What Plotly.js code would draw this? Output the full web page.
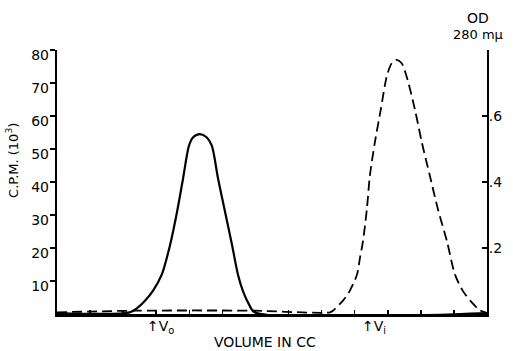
<!DOCTYPE html>
<html><head><meta charset="utf-8">
<script src="https://cdn.plot.ly/plotly-3.0.1.min.js"></script>
<style>body{margin:0;background:#fff}#c{width:513px;height:351px}</style>
</head><body><div id="c"></div>
<script>
// Solid curve: C.P.M. (10^3) vs volume
const cpmVolume = [0, 2.2, 2.45, 2.66, 2.9, 3.17, 3.42, 3.63, 3.81, 3.99, 4.11, 4.32, 4.53, 4.68, 4.87, 5.08, 5.29, 5.47, 5.62, 5.8, 5.98, 13];
const cpmValues = [0.3, 0.5, 2, 4, 7, 12, 21, 31, 41, 51, 53.5, 54.5, 53.5, 51, 41, 31, 21, 12, 7, 3, 0.5, 0.3];
// Dashed curve: OD 280 mμ vs volume
const odVolume = [0, 2.36, 5.92, 8.25, 8.34, 8.64, 8.85, 9.07, 9.16, 9.25, 9.37, 9.46, 9.61, 9.79, 9.97, 10.12, 10.27, 10.42, 10.57, 10.82, 11.03, 11.27, 11.51, 11.79, 12.03, 12.27, 12.54, 12.78, 13];
const odValues = [0.005, 0.01, 0.01, 0.005, 0.01, 0.04, 0.07, 0.12, 0.17, 0.22, 0.32, 0.42, 0.52, 0.62, 0.72, 0.76, 0.77, 0.76, 0.72, 0.62, 0.52, 0.42, 0.32, 0.22, 0.12, 0.07, 0.035, 0.012, 0.003];
const leftTicks = [10, 20, 30, 40, 50, 60, 70, 80];
const leftTickText = ["10", "20", "30", "40", "50", "60", "70", "80"];
const rightTicks = [0.2, 0.4, 0.6];
const rightTickText = [".2", ".4", ".6"];
const xTicks = [1, 2, 3, 4, 5, 6, 7, 8, 9, 10, 11, 12];
const markers = [{x: 2.65, label: "↑V<sub>o</sub>"}, {x: 9.15, label: "↑V<sub>i</sub>"}];

const font = {family: "DejaVu Sans, Arial, sans-serif", color: "#000"};
const f = s => Object.assign({size: s}, font);
const traces = [
  {x: cpmVolume, y: cpmValues, type: "scatter", mode: "lines", line: {color: "#000", width: 2.2, shape: "spline", smoothing: 0.8}, yaxis: "y", hoverinfo: "none"},
  {x: odVolume, y: odValues, type: "scatter", mode: "lines", line: {color: "#000", width: 1.8, dash: "10px,5px", shape: "spline", smoothing: 0.8}, yaxis: "y2", hoverinfo: "none"}
];
const layout = {
  width: 513, height: 351,
  margin: {l: 57, r: 26, t: 50, b: 37},
  paper_bgcolor: "#fff", plot_bgcolor: "#fff",
  showlegend: false,
  font: f(14),
  xaxis: {range: [0, 13], showgrid: false, zeroline: false, showline: true, linecolor: "#000", linewidth: 2.5,
          tickmode: "array", tickvals: xTicks, ticks: "inside", ticklen: 4, tickwidth: 1.5, tickcolor: "#000", showticklabels: false},
  yaxis: {range: [0, 80], showgrid: false, zeroline: false, showline: true, linecolor: "#000", linewidth: 2.2,
          tickmode: "array", tickvals: leftTicks, ticktext: leftTickText, ticks: "outside", ticklen: 5, tickwidth: 1.5, tickcolor: "#000",
          tickfont: f(14), ticklabelstandoff: -2, ticklabelshift: 5},
  yaxis2: {range: [0, 0.8], overlaying: "y", side: "right", showgrid: false, zeroline: false, showline: true, linecolor: "#000", linewidth: 2,
           tickmode: "array", tickvals: rightTicks, ticktext: rightTickText, ticks: "inside", ticklen: 5, tickwidth: 1.5, tickcolor: "#000",
           tickfont: f(14), ticklabelstandoff: -3},
  annotations: markers.map(m => ({x: m.x, xref: "x", y: 0, yref: "paper", yanchor: "top", yshift: -2, text: m.label, showarrow: false,
      font: f(14), xanchor: "left"})).concat([
    {x: 6.3, xref: "x", xanchor: "center", y: 0, yref: "paper", yanchor: "middle", yshift: -28, text: "VOLUME IN CC", showarrow: false, font: f(14)},
    {x: 0, xref: "paper", xshift: -45, xanchor: "center", y: 0.58, yref: "paper", yanchor: "middle", textangle: -90, text: "C.P.M. (10<sup>3</sup>)", showarrow: false, font: f(13)},
    {x: 1, xref: "paper", xanchor: "center", xshift: -9, y: 1, yref: "paper", yanchor: "bottom", yshift: 22, text: "OD", showarrow: false, font: f(14)},
    {x: 1, xref: "paper", xanchor: "center", xshift: -9, y: 1, yref: "paper", yanchor: "bottom", yshift: 6, text: "280 mμ", showarrow: false, font: f(13)}
  ])
};
Plotly.newPlot("c", traces, layout, {staticPlot: true});
</script></body></html>
